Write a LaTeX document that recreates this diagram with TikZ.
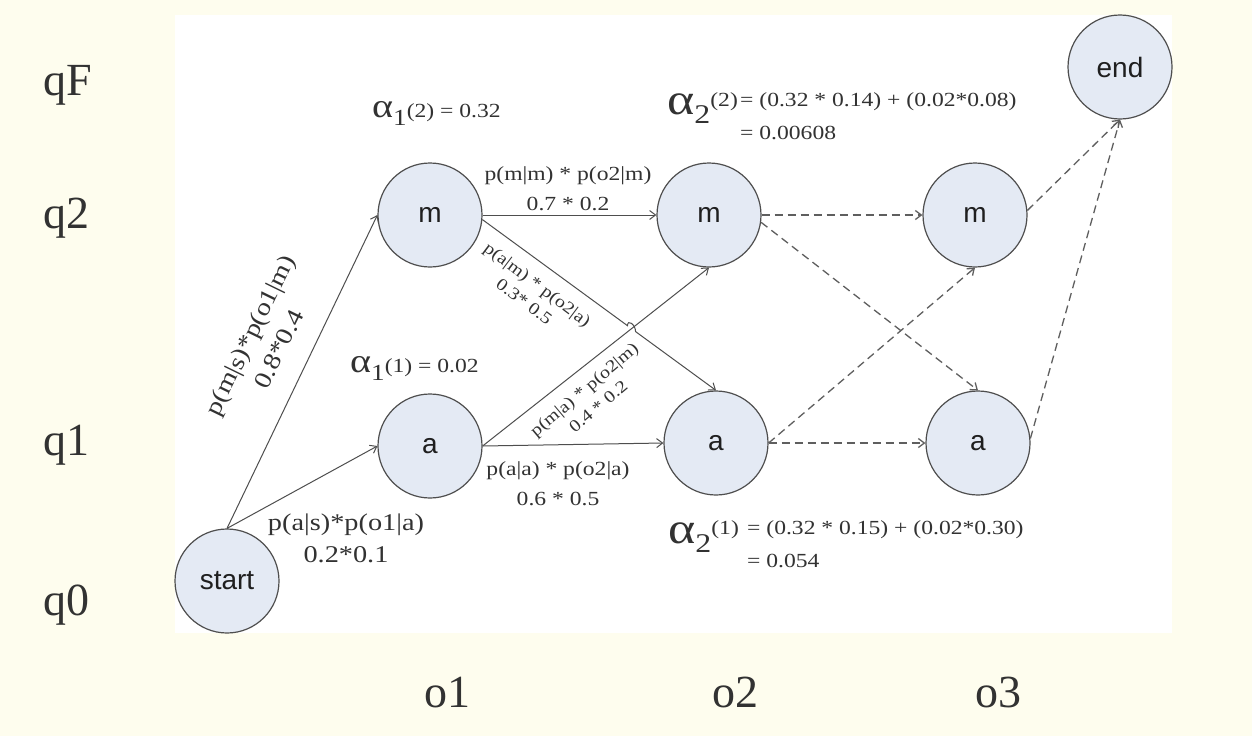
\documentclass[tikz,border=0pt]{standalone}
\usepackage{fontspec}
\setmainfont{Liberation Serif}
\newfontfamily\annfont{Liberation Serif}[FakeStretch=1.18]
\newfontfamily\statefont{Liberation Sans}
\usetikzlibrary{arrows.meta,calc}
\definecolor{cream}{RGB}{254,253,238}
\definecolor{statefill}{RGB}{228,234,244}
\definecolor{edgegray}{RGB}{78,78,78}
\definecolor{dashgray}{RGB}{95,95,95}
\definecolor{textgray}{RGB}{50,50,50}
\newcommand\fsz[2]{\fontsize{#1}{#2}\selectfont}
\begin{document}
\begin{tikzpicture}[x=1pt,y=-1pt,
  state/.style={circle, draw=edgegray, line width=1.2pt, fill=statefill,
    minimum size=104pt, inner sep=0pt, font=\statefont\fsz{28}{28}, text=black!88},
  rowlab/.style={font=\fsz{46}{46}, text=textgray, anchor=base west, inner sep=0pt},
  collab/.style={font=\fsz{46}{46}, text=textgray, anchor=base, inner sep=0pt},
  ann/.style={font=\annfont\fsz{20}{30}, text=textgray, align=center, inner sep=0pt},
  smallann/.style={font=\annfont\fsz{17}{22}, text=textgray, align=center, inner sep=0pt},
  bigann/.style={font=\annfont\fsz{24}{32}, text=textgray, align=center, inner sep=0pt},
  alab/.style={text=textgray, anchor=base west, inner sep=0pt},
  trans/.style={draw=edgegray, line width=1pt, -{Straight Barb[length=6pt,width=9pt]}},
  later/.style={draw=dashgray, line width=1.3pt, dash pattern=on 8pt off 5pt,
    -{Straight Barb[length=6pt,width=9pt]}}]

% page and drawing area
\fill[cream] (0,0) rectangle (1252,736);
\fill[white] (175,15) rectangle (1172,633);
\useasboundingbox (0,0) rectangle (1252,736);

% states of the trellis
\node[state] (start) at (227,581) {start};
\node[state] (m1) at (430,215) {m};
\node[state] (a1) at (430,446) {a};
\node[state] (m2) at (709,215) {m};
\node[state] (a2) at (716,443) {a};
\node[state] (m3) at (975,215) {m};
\node[state] (a3) at (978,443) {a};
\node[state] (fin) at (1120,67) {end};

% computed transitions
\draw[trans] (start.north) -- (m1.west);
\draw[trans] (start.north) -- (a1.west);
\draw[trans] (m1.east) -- (m2.west);
\draw[trans] (a1.east) -- (a2.west);
\draw[trans] (a1.east) -- (m2.south);
% m -> a hops over the a -> m transition where they cross
\coordinate (cross) at (intersection of m1.-5--a2.north and a1.east--m2.south);
\coordinate (hopin) at ($(cross)!5pt!(m1.-5)$);
\coordinate (hopout) at ($(cross)!5pt!(a2.north)$);
\draw[trans] (m1.-5) -- (hopin)
  .. controls ($(hopin)+(0,-7)$) and ($(hopout)+(0,-7)$) .. (hopout) -- (a2.north);

% remaining transitions
\draw[later] (m2.east) -- (m3.west);
\draw[later] (m2.-8) -- (a3.north);
\draw[later] (a2.east) -- (m3.south);
\draw[later] (a2.east) -- (a3.west);
\draw[later] (m3.5) -- (fin.south);
\draw[later] (a3.5) -- (fin.south);

% state rows and observation columns
\node[rowlab] (qF) at (43,95) {qF};
\node[rowlab] (q2) at (43,228) {q2};
\node[rowlab] (q1) at (43,455) {q1};
\node[rowlab] (q0) at (43,615) {q0};
\node[collab] (o1) at (447,707) {o1};
\node[collab] (o2) at (735,707) {o2};
\node[collab] (o3) at (998,707) {o3};

% transition probabilities (base = baseline of the last line)
\node[bigann, rotate=64] (lsm) at (264,342) {p(m|s)*p(o1|m)\\0.8*0.4};
\node[bigann, anchor=base] (lsa) at (346,562) {p(a|s)*p(o1|a)\\0.2*0.1};
\node[ann, anchor=base] (lmm) at (568,210) {p(m|m) * p(o2|m)\\0.7 * 0.2};
\node[ann, anchor=base] (laa) at (558,505) {p(a|a) * p(o2|a)\\0.6 * 0.5};
\node[smallann, rotate=-37] (lma) at (531,293) {p(a|m) * p(o2|a)\\0.3* 0.5};
\node[smallann, rotate=40] (lam) at (591,398) {p(m|a) * p(o2|m)\\0.4 * 0.2};

% forward variables
\node[alab] (al12) at (372,117) {\annfont\fsz{34}{34}α\raisebox{-8pt}{\fsz{23}{23}1}\fsz{20}{20}(2) = 0.32};
\node[alab] (al11) at (350,372) {\annfont\fsz{34}{34}α\raisebox{-8pt}{\fsz{23}{23}1}\fsz{20}{20}(1) = 0.02};
\node[alab] (al22) at (667,114) {\annfont\fsz{44}{44}α\raisebox{-9pt}{\fsz{27}{27}2}\raisebox{8pt}{\fsz{20}{20}(2)}};
\node[alab, font=\annfont\fsz{20}{33}, align=left] (eq22) at (740,139) {= (0.32 * 0.14) + (0.02*0.08)\\= 0.00608};
\node[alab] (al21) at (668,543) {\annfont\fsz{44}{44}α\raisebox{-9pt}{\fsz{27}{27}2}\raisebox{9pt}{\fsz{20}{20}(1)}};
\node[alab, font=\annfont\fsz{20}{33}, align=left] (eq21) at (747,567) {= (0.32 * 0.15) + (0.02*0.30)\\= 0.054};
\end{tikzpicture}
\end{document}
